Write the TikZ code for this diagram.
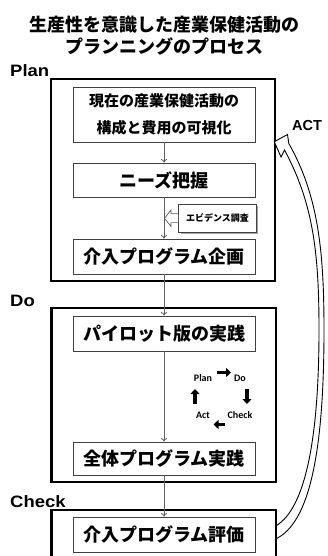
\documentclass[tikz,border=0pt]{standalone}
\usepackage{fontspec}
\usetikzlibrary{arrows.meta}
\newfontfamily\jp{Noto Sans CJK JP}
\newfontfamily\lsans{Liberation Sans}
\newfontfamily\carl{Carlito}
\definecolor{boxline}{HTML}{404040}
\definecolor{connline}{HTML}{606060}
\tikzset{
  outerbox/.style={draw=black, line width=2.6pt},
  stepbox/.style={draw=boxline, line width=0.8pt, fill=white, minimum width=182pt, inner sep=0pt,
    font=\jp\bfseries\fontsize{18}{20}\selectfont},
  conn/.style={draw=connline, line width=0.8pt, -{To[length=3.5pt,width=6pt]}},
  lbl/.style={font=\lsans\bfseries\fontsize{16.5}{18}\selectfont, anchor=base west, inner sep=0pt},
  pdca/.style={font=\carl\bfseries\fontsize{10}{11}\selectfont, inner sep=0pt},
  cyc/.style={line width=3.6pt, -{Triangle[length=5pt,width=9pt]}},
  titletext/.style={font=\jp\bfseries\fontsize{18}{20}\selectfont, inner sep=0pt}
}
\begin{document}
\begin{tikzpicture}[x=1pt,y=-1pt]
\useasboundingbox (0,0) rectangle (328,556);
\begin{scope}
\clip (0,0) rectangle (328,556);
% title
\node[titletext] (t1) at (164,24.5) {生産性を意識した産業保健活動の};
\node[titletext] (t2) at (164,46) {プランニングのプロセス};
% labels
\node[lbl] (lplan) at (10,77) {\scalebox{1.12}[1]{Plan}};
\node[lbl] (ldo) at (10,306.5) {\scalebox{1.12}[1]{Do}};
\node[lbl] (lcheck) at (10,507.5) {\scalebox{1.12}[1]{Check}};
\node[lbl, font=\lsans\bfseries\fontsize{14.5}{16}\selectfont] (lact) at (292,131) {ACT};
% outer boxes
\draw[outerbox] (51,79) rectangle (275,281);
\draw[outerbox] (51.5,308) rectangle (276,482);
\draw[outerbox] (51.5,510) rectangle (276,580);
% inner boxes
\node[stepbox, minimum height=55pt, align=center, font=\jp\bfseries\fontsize{15}{26.5}\selectfont]
  (b1) at (164,114.5) {現在の産業保健活動の\\構成と費用の可視化};
\node[stepbox, minimum height=34pt] (b2) at (164,180) {ニーズ把握};
\node[stepbox, minimum height=35pt] (b3) at (164,256.5) {介入プログラム企画};
\node[stepbox, minimum height=35pt] (b4) at (164,333.5) {パイロット版の実践};
\node[stepbox, minimum height=33pt] (b5) at (164,458.5) {全体プログラム実践};
\node[stepbox, minimum height=35pt] (b6) at (164,534.5) {介入プログラム評価};
% connectors
\draw[conn] (b1.south) -- (b2.north);
\draw[conn] (b2.south) -- (b3.north);
\draw[conn] (b3.south) -- (b4.north);
\draw[conn] (b4.south) -- (b5.north);
\draw[conn] (b5.south) -- (b6.north);
% evidence box
\fill[black!35] (180.5,205.5) rectangle (257.5,233.5);
\node[draw=boxline, line width=0.6pt, fill=white, minimum width=78pt, minimum height=28pt, inner sep=0pt,
  font=\jp\bfseries\fontsize{9}{10}\selectfont] (ev) at (217.5,218) {エビデンス調査};
\coordinate (evtip) at (164.5,218.3);
\draw[draw=connline, line width=0.7pt, fill=white, line join=miter]
  (ev.west |- 0,213.8) -- (171,213.8) -- (171,210) -- (evtip) -- (171,226.5) -- (171,222.6) -- (ev.west |- 0,222.6);
% PDCA cycle
\node[pdca] (pp) at (203,378) {Plan};
\node[pdca] (pd) at (240,378) {Do};
\node[pdca] (pc) at (240,415) {Check};
\node[pdca] (pa) at (203,415) {Act};
\draw[cyc] (217,372.5) -- (231,372.5);
\draw[cyc] (247,389) -- (247,404);
\draw[cyc] (225,424.5) -- (213.5,424.5);
\draw[cyc] (195,404) -- (195,389);
% ACT curved hollow arrow
\coordinate (acttip) at (274.3,141.7);
\draw[line width=0.9pt, fill=white, line join=miter]
  (acttip) -- (287.5,134.5) -- (288.8,143.5)
  .. controls (318,195) and (324,250) .. (324,330)
  .. controls (324,450) and (310,522) .. (276.5,538.5)
  -- (276.5,525.5)
  .. controls (305,508) and (319,440) .. (319,330)
  .. controls (319,252) and (313,203) .. (284.5,150)
  -- (281,157) -- cycle;
\end{scope}
\end{tikzpicture}
\end{document}
